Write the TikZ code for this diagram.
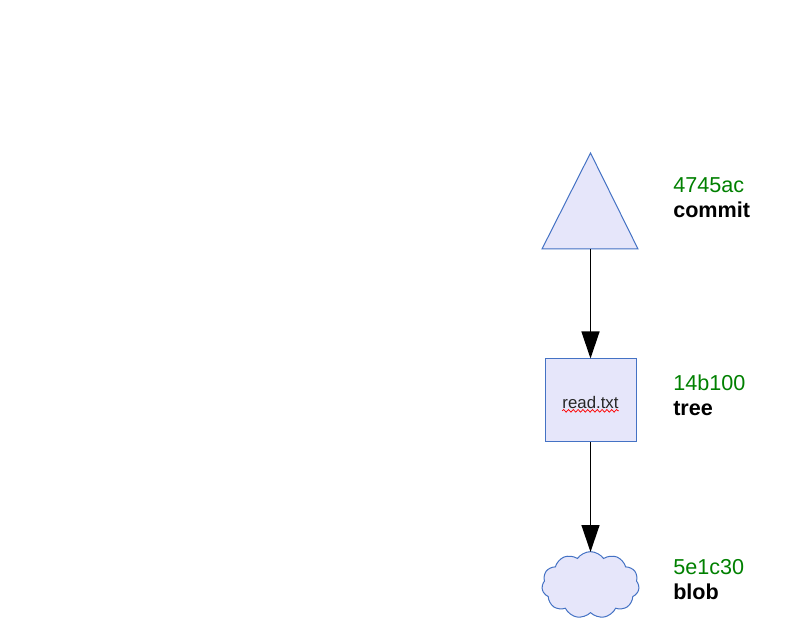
\documentclass[tikz,border=0pt]{standalone}
\usepackage{fontspec}
\setmainfont{Liberation Sans}
\usetikzlibrary{shapes.symbols,arrows.meta,decorations.pathmorphing}
\definecolor{objfill}{RGB}{230,230,250}
\definecolor{objline}{RGB}{68,114,196}
\definecolor{hashgreen}{RGB}{0,128,0}
\begin{document}
\begin{tikzpicture}[x=0.75pt,y=-0.75pt,
  objshape/.style={draw=objline,fill=objfill,line width=0.75pt},
  link/.style={line width=1pt,-{Triangle[length=20.25pt,width=13.5pt]}},
  hash/.style={anchor=base west,inner sep=0pt,text=hashgreen,font=\fontsize{16.2}{18}\selectfont},
  kind/.style={anchor=base west,inner sep=0pt,font=\fontsize{16.2}{18}\selectfont\bfseries}]
\useasboundingbox (0,0) rectangle (811,627);
% commit object
\draw[objshape] (590.5,153) -- (638,249) -- (542,249) -- cycle;
\coordinate (commitbase) at (590.5,249);
% tree object
\node[objshape,minimum width=68.25pt,minimum height=62.25pt,inner sep=0pt] (tree) at (590.5,400.5) {};
\node[inner sep=0pt,font=\fontsize{12.6}{14}\selectfont,text=black!85] (fname) at (590.5,402) {read.txt};
\draw[red,line width=0.55pt,decorate,decoration={snake,amplitude=1pt,segment length=3.6pt}]
  (fname.south west) ++(0,-1.8pt) -- ([yshift=-1.8pt]fname.south east);
% blob object
\node[cloud,cloud puffs=11,cloud puff arc=110,aspect=1.5,objshape,minimum width=73pt,minimum height=50pt,inner sep=0pt] (blob) at (590.5,585) {};
% references between objects
\draw[link] (commitbase) -- (tree.north);
\draw[link] (tree.south) -- (590.5,552);
% labels
\node[hash] (h1) at (673,193) {4745ac};
\node[kind] (k1) at (673,218) {commit};
\node[hash] (h2) at (673,391) {14b100};
\node[kind] (k2) at (673,416) {tree};
\node[hash] (h3) at (673,574) {5e1c30};
\node[kind] (k3) at (673,599) {blob};
\end{tikzpicture}
\end{document}
